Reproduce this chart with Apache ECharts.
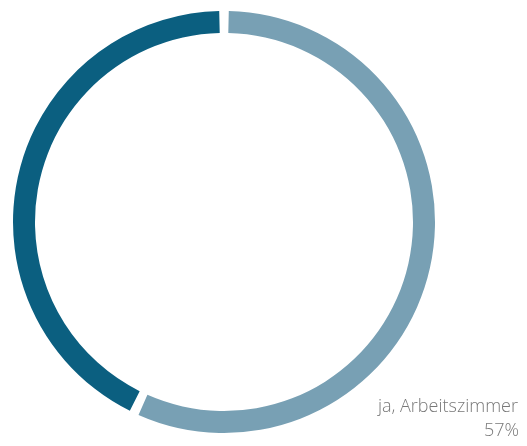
<!DOCTYPE html>
<html>
<head>
<meta charset="utf-8">
<script src="https://cdn.jsdelivr.net/npm/echarts@6/dist/echarts.min.js"></script>
<style>
  html, body { margin: 0; padding: 0; background: #fff; }
  #chart { width: 527px; height: 446px; }
</style>
</head>
<body>
<div id="chart"></div>
<script>
// Anteile (Prozent)
const names = ['ja, Arbeitszimmer', 'nein']
const values = [57, 43]
const colors = ['#78a0b4', '#0b5f80']

const chart = echarts.init(document.getElementById('chart'))

const labelFont = '300 18px "Open Sans"'

const option = {
  animation: false,
  graphic: [
    {
      type: 'text',
      right: 9,
      top: 398,
      style: { text: names[0], fill: '#787878', font: labelFont }
    },
    {
      type: 'text',
      right: 8,
      top: 422,
      style: { text: values[0] + '%', fill: '#787878', font: labelFont }
    }
  ],
  series: [
    {
      type: 'pie',
      center: [224, 222],
      radius: [189, 211],
      startAngle: 90,
      clockwise: true,
      padAngle: 2.6,
      label: { show: false },
      labelLine: { show: false },
      silent: true,
      data: values.map((v, i) => ({
        name: names[i],
        value: v,
        itemStyle: { color: colors[i] }
      }))
    }
  ]
}

chart.setOption(option)
</script>
</body>
</html>
